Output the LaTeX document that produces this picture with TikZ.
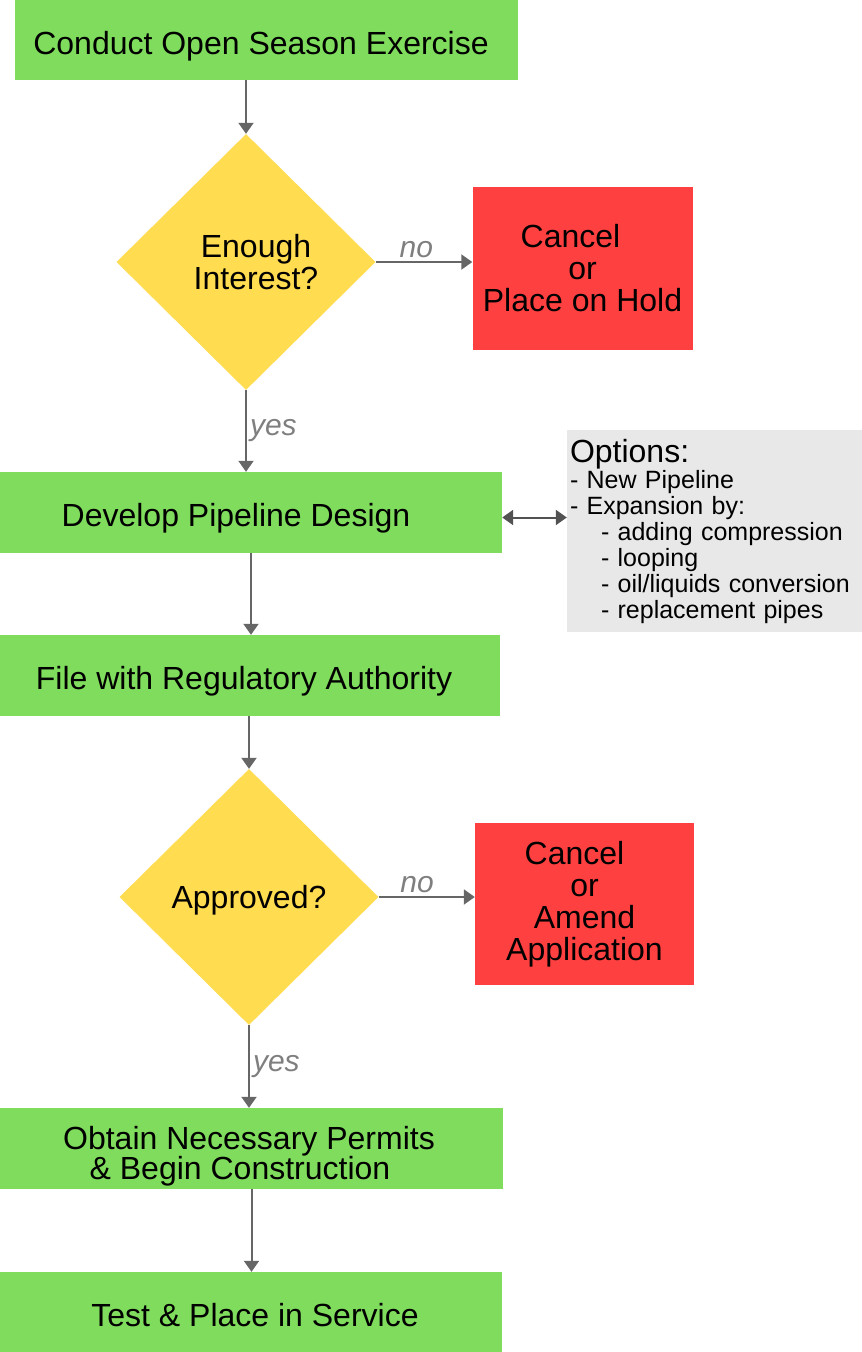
\documentclass[tikz,border=0pt]{standalone}
\usepackage{fontspec}
\setmainfont{Liberation Sans}
\usetikzlibrary{arrows.meta, positioning, shapes.geometric}
\definecolor{stepgreen}{HTML}{80DC5C}
\definecolor{askyellow}{HTML}{FFDC50}
\definecolor{stopred}{HTML}{FF4040}
\definecolor{notegray}{HTML}{E8E8E8}
\definecolor{wiregray}{HTML}{666666}
\definecolor{taggray}{HTML}{7F7F7F}

\begin{document}
\begin{tikzpicture}[
  x=1pt, y=-1pt,
  block/.style={fill=stepgreen, minimum width=502pt, minimum height=81pt, inner sep=0pt, align=center, text height=28pt, text depth=0pt, font=\fontsize{32}{32}\selectfont},
  decision/.style={diamond, fill=askyellow, minimum width=259pt, minimum height=256pt, inner sep=0pt, align=center, text depth=0pt, font=\fontsize{32}{32}\selectfont},
  stopbox/.style={fill=stopred, minimum width=220pt, minimum height=163pt, inner sep=0pt, align=center, font=\fontsize{32}{32}\selectfont},
  note/.style={fill=notegray, minimum height=202pt, text width=289pt, inner xsep=3pt, align=left, font=\fontsize{25}{26}\selectfont},
  line/.style={-{Triangle[length=11pt, width=15pt]}, line width=2pt, color=wiregray},
  twoway/.style={{Triangle[length=11pt, width=15pt]}-{Triangle[length=11pt, width=15pt]}, line width=2pt, color=wiregray!80!black},
  tag/.style={text=taggray, font=\fontsize{30}{30}\selectfont\itshape, inner sep=3pt}
]
\useasboundingbox (0,0) rectangle (862,1352);

\node[block, minimum width=503pt, minimum height=80pt] (open) at (266.5,40) {Conduct Open Season Exercise\hspace*{11pt}};

\node[decision] (interest) at (246,262) {\hspace*{20pt}Enough\\\hspace*{20pt}Interest?};
\node[stopbox] (hold) at (582.5,268.5) {Cancel\hspace*{24pt}\\or\hspace*{43pt}\\Place on Hold};

\node[block] (design) at (251,512.5) {Develop Pipeline Design\hspace*{30pt}};
\node[note] (options) at (714.5,531) {{\fontsize{32}{32}\selectfont Options:}\\
- New Pipeline\\
- Expansion by:\\
\hspace*{31pt}- adding compression\\
\hspace*{31pt}- looping\\
\hspace*{31pt}- oil/liquids conversion\\
\hspace*{31pt}- replacement pipes};

\node[block, minimum width=500pt] (file) at (250,675.5) {File with Regulatory Authority\hspace*{12pt}};

\node[decision] (approved) at (249,897) {Approved?};
\node[stopbox, minimum width=219pt, minimum height=162pt] (amend) at (584.5,904) {Cancel\hspace*{20pt}\\or\hspace*{33pt}\\Amend\hspace*{20pt}\\Application};

\node[block, minimum width=503pt, text height=, font=\fontsize{32}{30}\selectfont] (permits) at (251.5,1148.5) {\rule{0pt}{31pt}Obtain Necessary Permits\hspace*{5pt}\\\& Begin Construction\hspace*{23pt}};
\node[block, minimum height=80pt] (service) at (251,1312) {\hspace*{8pt}Test \& Place in Service};

\draw[line] (interest.north |- open.south) -- (interest.north);
\draw[line] (interest.east) -- node[tag, above, pos=0.42] (noI) {no} (hold.west |- interest.east);
\draw[line] (interest.south) -- node[tag, right] (yesI) {yes} (interest.south |- design.north);

\draw[twoway] ([yshift=-5pt]design.east) -- ([yshift=-5pt]design.east -| options.west);

\draw[line] (design.south) -- (design.south |- file.north);
\draw[line] (approved.north |- file.south) -- (approved.north);
\draw[line] (approved.east) -- node[tag, above, pos=0.4] (noII) {no} (amend.west |- approved.east);
\draw[line] (approved.south) -- node[tag, right] (yesII) {yes} (approved.south |- permits.north);
\draw[line] (permits.south) -- (permits.south |- service.north);
\end{tikzpicture}
\end{document}
